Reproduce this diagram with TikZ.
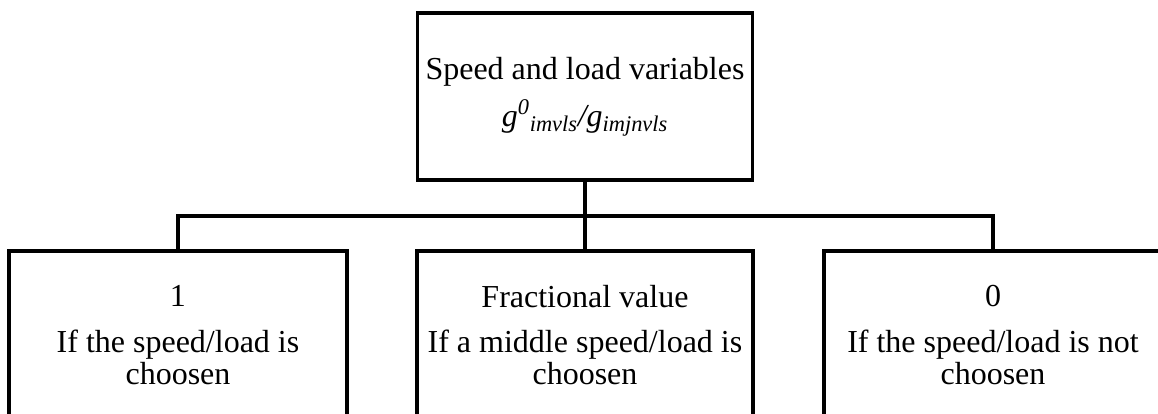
\documentclass[tikz,border=0pt]{standalone}
\usepackage{fontspec}
\setmainfont{Liberation Serif}
\usepackage{tikz}

\tikzset{
  box/.style={draw, line width=2.4pt, inner sep=0pt, align=center,
    font=\fontsize{24pt}{24pt}\selectfont},
  link/.style={line width=2.4pt}
}

\begin{document}
\begin{tikzpicture}[x=0.75pt,y=-0.75pt]
      \clip (0,0) rectangle (1158,414);
      \node [box, minimum width=251.25pt, minimum height=125.25pt] (vars) at (585,96.5)
        {Speed and load variables\\[9pt]
         \textit{g}\textsuperscript{\textit{0}}\textsubscript{\textit{imvls}}\textit{/g}\textsubscript{\textit{imjnvls}}};
      \node [box, minimum width=253.5pt, minimum height=126pt] (one) at (178,335)
        {1\\[10pt]If the speed/load is\\choosen};
      \node [box, minimum width=252pt, minimum height=126pt] (frac) at (585,335)
        {Fractional value\\[10pt]If a middle speed/load is\\choosen};
      \node [box, minimum width=253.5pt, minimum height=126pt] (zero) at (993,335)
        {0\\[10pt]If the speed/load is not\\choosen};
      \coordinate (split) at (585,216);
      \draw [link] (vars.south) -- (split);
      \draw [link] (one.north) |- (split) -| (zero.north);
      \draw [link] (split) -- (frac.north);
    \end{tikzpicture}
\end{document}
